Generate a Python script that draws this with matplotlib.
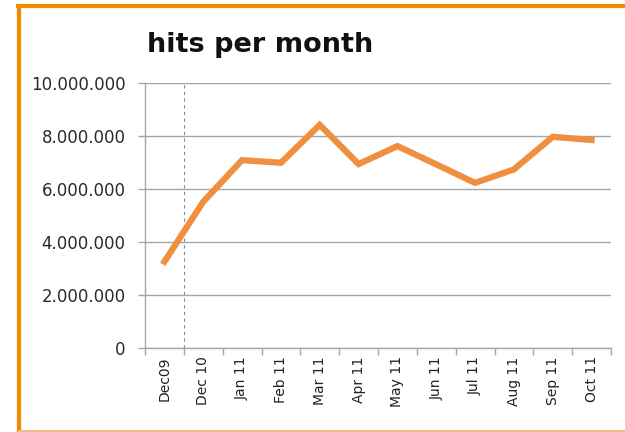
import matplotlib
matplotlib.use("Agg")
import matplotlib.pyplot as plt
from matplotlib.ticker import FuncFormatter, FixedLocator
from matplotlib.lines import Line2D

plt.rcParams["font.family"] = ["DejaVu Sans"]

categories = ["Dec09", "Dec 10", "Jan 11", "Feb 11", "Mar 11", "Apr 11",
              "May 11", "Jun 11", "Jul 11", "Aug 11", "Sep 11", "Oct 11"]
hits = [3260000, 5520000, 7090000, 6990000, 8420000, 6940000,
        7620000, 6930000, 6230000, 6740000, 7970000, 7850000]
y_ticks = [0, 2000000, 4000000, 6000000, 8000000, 10000000]

W, H = 625, 432
fig = plt.figure(figsize=(W / 100, H / 100), dpi=100)
fig.patch.set_facecolor("white")

ax = fig.add_axes([145 / W, 1 - 348 / H, (611 - 145) / W, (348 - 83) / H])
x = list(range(len(categories)))

grid_c = "#a6a6a6"
ax.set_xlim(-0.5, len(categories) - 0.5)
ax.set_ylim(0, 10000000)
ax.set_yticks(y_ticks)
ax.yaxis.set_major_formatter(FuncFormatter(lambda v, p: f"{int(v):,}".replace(",", ".")))
ax.grid(axis="y", color=grid_c, linewidth=1.0)
ax.set_axisbelow(True)

ax.plot(x, hits, color="#ef8f3f", linewidth=4.5, solid_joinstyle="miter", zorder=3)
ax.axvline(0.5, color="#8a8a8a", linestyle=(0, (3, 3)), linewidth=0.8, zorder=2)

ax.set_xticks(x)
ax.set_xticklabels(categories, rotation=90, fontsize=10, color="#222222")
ax.tick_params(axis="x", which="major", length=0, pad=6)
ax.xaxis.set_minor_locator(FixedLocator([i - 0.5 for i in range(len(categories) + 1)]))
ax.tick_params(axis="x", which="minor", length=5, color=grid_c, width=1)
ax.tick_params(axis="y", length=5, color=grid_c, width=1, labelsize=12, labelcolor="#2a2a2a", pad=9)

for s in ["top", "right"]:
    ax.spines[s].set_visible(False)
for s in ["left", "bottom"]:
    ax.spines[s].set_color(grid_c)
    ax.spines[s].set_linewidth(1.0)

fig.text(147 / W, 1 - 52 / H, "hits per month", fontsize=19.5, fontweight="bold",
         ha="left", va="baseline", color="#111111")

# orange frame
fig.add_artist(Line2D([19 / W, 19 / W], [0, 1 - 5.5 / H], transform=fig.transFigure,
                      color="#f28a00", linewidth=3))
fig.add_artist(Line2D([17.5 / W, 1], [1 - 5.5 / H, 1 - 5.5 / H], transform=fig.transFigure,
                      color="#f28a00", linewidth=3))
fig.add_artist(Line2D([19 / W, 1], [1 / H, 1 / H], transform=fig.transFigure,
                      color="#f6bb80", linewidth=1.5))

fig.savefig("out.png", dpi=100)
